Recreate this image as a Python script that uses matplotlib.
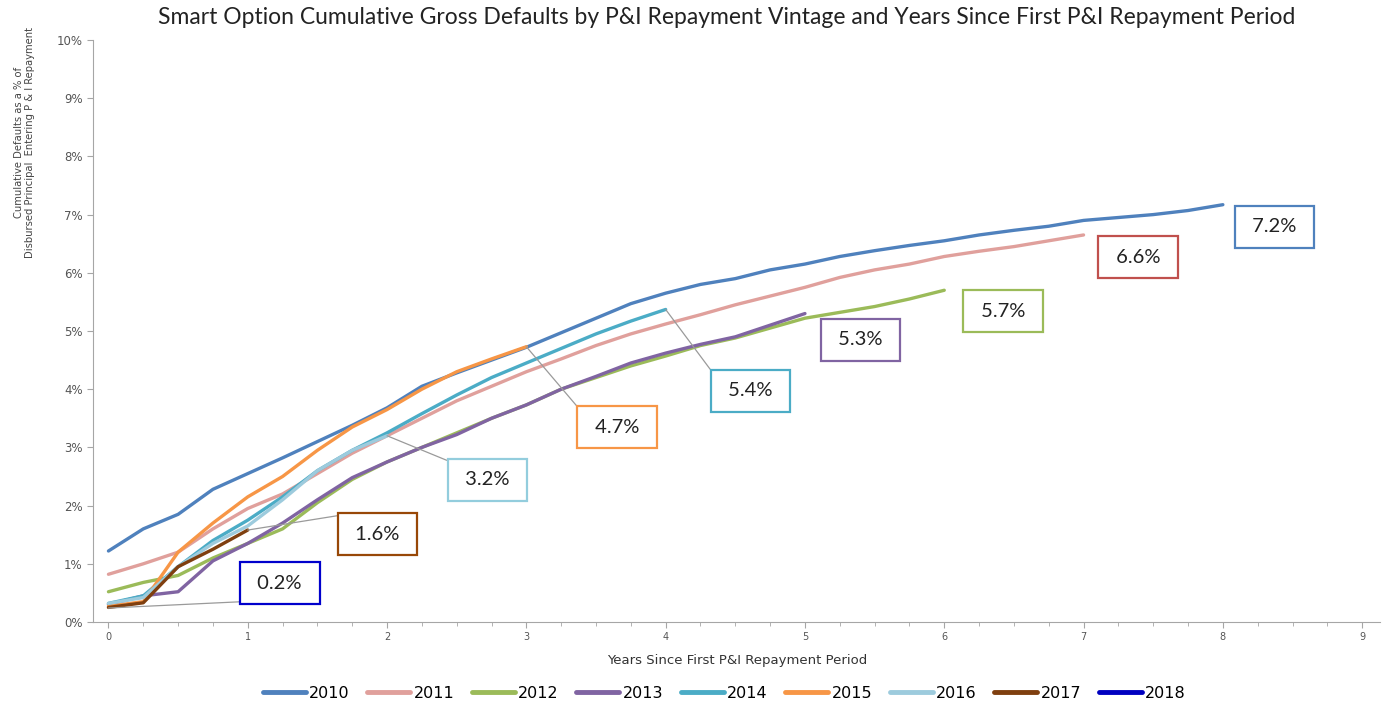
import numpy as np
import matplotlib
matplotlib.use("Agg")
import matplotlib.pyplot as plt
from matplotlib.ticker import MultipleLocator, FuncFormatter

# quarterly points, years since first P&I repayment period
vintages = ["2010", "2011", "2012", "2013", "2014", "2015", "2016", "2017", "2018"]

d2010 = [1.22, 1.60, 1.85, 2.28, 2.55, 2.82, 3.10, 3.38, 3.68, 4.05, 4.28, 4.50, 4.72,
         4.97, 5.22, 5.47, 5.65, 5.80, 5.90, 6.05, 6.15, 6.28, 6.38, 6.47, 6.55,
         6.65, 6.73, 6.80, 6.90, 6.95, 7.00, 7.07, 7.17]
d2011 = [0.82, 1.00, 1.20, 1.60, 1.95, 2.20, 2.55, 2.90, 3.20, 3.50, 3.80, 4.05, 4.30,
         4.52, 4.75, 4.95, 5.12, 5.28, 5.45, 5.60, 5.75, 5.92, 6.05, 6.15, 6.28,
         6.37, 6.45, 6.55, 6.65]
d2012 = [0.52, 0.68, 0.80, 1.10, 1.35, 1.60, 2.05, 2.45, 2.75, 3.00, 3.25, 3.50, 3.73,
         4.00, 4.20, 4.40, 4.57, 4.75, 4.88, 5.05, 5.22, 5.32, 5.42, 5.55, 5.70]
d2013 = [0.30, 0.45, 0.52, 1.05, 1.35, 1.70, 2.10, 2.48, 2.75, 3.00, 3.22, 3.50, 3.73,
         4.00, 4.22, 4.45, 4.62, 4.77, 4.90, 5.10, 5.30]
d2014 = [0.32, 0.45, 0.95, 1.40, 1.75, 2.15, 2.60, 2.95, 3.25, 3.58, 3.90, 4.20, 4.45,
         4.70, 4.95, 5.17, 5.37]
d2015 = [0.27, 0.35, 1.20, 1.70, 2.15, 2.50, 2.95, 3.35, 3.65, 4.00, 4.30, 4.52, 4.73]
d2016 = [0.32, 0.42, 0.95, 1.35, 1.65, 2.10, 2.60, 2.95, 3.20]
d2017 = [0.25, 0.33, 0.95, 1.25, 1.58]
d2018 = [0.24]

series = [d2010, d2011, d2012, d2013, d2014, d2015, d2016, d2017, d2018]
line_colors = ["#4f81bd", "#e0a09c", "#9bbb59", "#8064a2", "#4bacc6",
               "#f79646", "#9dcbdd", "#7f3f0f", "#0000c0"]

# end-of-series labels
label_texts = ["7.2%", "6.6%", "5.7%", "5.3%", "5.4%", "4.7%", "3.2%", "1.6%", "0.2%"]
label_edge = ["#4f81bd", "#c0504d", "#9bbb59", "#8064a2", "#4bacc6",
              "#f79646", "#93cddd", "#984807", "#0000cc"]
label_series = [0, 1, 2, 3, 4, 5, 6, 7, 8]
label_pos = [(8.37, 6.79), (7.39, 6.27), (6.42, 5.34), (5.40, 4.85), (4.61, 3.97),
             (3.65, 3.35), (2.72, 2.44), (1.93, 1.51), (1.23, 0.67)]
# leader attaches at box corner (relative to the text extent)
label_leader = [None, None, None, None, (-0.2, 1.6), (-0.2, 1.6), (-0.2, 1.6),
                (-0.2, 1.6), (-0.2, -0.6)]

fig = plt.figure(figsize=(13.9, 7.09), dpi=100)
ax = fig.add_axes([0.067, 0.1227, 0.926, 0.8209])

for name, vals, col in zip(vintages, series, line_colors):
    x = np.arange(len(vals)) * 0.25
    ax.plot(x, vals, color=col, lw=2.4, label=name, solid_capstyle="round")

for txt, ec, si, pos, rp in zip(label_texts, label_edge, label_series, label_pos, label_leader):
    vals = series[si]
    end = ((len(vals) - 1) * 0.25, vals[-1])
    arrow = None
    if rp is not None:
        arrow = dict(arrowstyle="-", color="#9a9a9a", lw=0.9, relpos=rp,
                     shrinkA=0, shrinkB=0)
    ax.annotate(" " + txt + " ", xy=end, xytext=pos, ha="center", va="center",
                fontsize=14.5, family="Lato", color="#222222",
                bbox=dict(boxstyle="square,pad=0.62", fc="white", ec=ec, lw=1.6),
                arrowprops=arrow)

ax.set_xlim(-0.11, 9.13)
ax.set_ylim(0, 10)
ax.xaxis.set_major_locator(MultipleLocator(1))
ax.xaxis.set_minor_locator(MultipleLocator(0.25))
ax.yaxis.set_major_locator(MultipleLocator(1))
ax.yaxis.set_major_formatter(FuncFormatter(lambda v, p: "{:d}%".format(int(round(v)))))
for s in ["top", "right"]:
    ax.spines[s].set_visible(False)
for s in ["left", "bottom"]:
    ax.spines[s].set_color("#a6a6a6")
ax.tick_params(axis="y", colors="#a6a6a6", labelcolor="#555555", labelsize=8.5, length=4)
ax.tick_params(axis="x", which="major", colors="#a6a6a6", labelcolor="#555555",
               labelsize=7, length=4)
ax.tick_params(axis="x", which="minor", colors="#a6a6a6", length=3)

ax.set_xlabel("Years Since First P&I Repayment Period", fontsize=9.5, color="#333333",
              labelpad=8)
fig.text(0.0175, 1 - 142 / 709, "Cumulative Defaults as a % of\nDisbursed Principal  Entering P & I Repayment",
         rotation=90, ha="center", va="center", fontsize=7.2, color="#444444")

fig.suptitle("Smart Option Cumulative Gross Defaults by P&I Repayment Vintage and Years Since First P&I Repayment Period",
             x=0.523, y=0.99, fontsize=16.5, family="Lato", color="#222222")

fig.legend(loc="center", bbox_to_anchor=(0.521, 0.022), ncol=9, frameon=False,
           prop=dict(family=["Liberation Sans Narrow", "DejaVu Sans"], size=11.5),
           handlelength=2.7, handletextpad=0.2, columnspacing=1.1)
for lh in fig.legends[0].get_lines():
    lh.set_linewidth(3.5)

fig.savefig("out.png", dpi=100)
